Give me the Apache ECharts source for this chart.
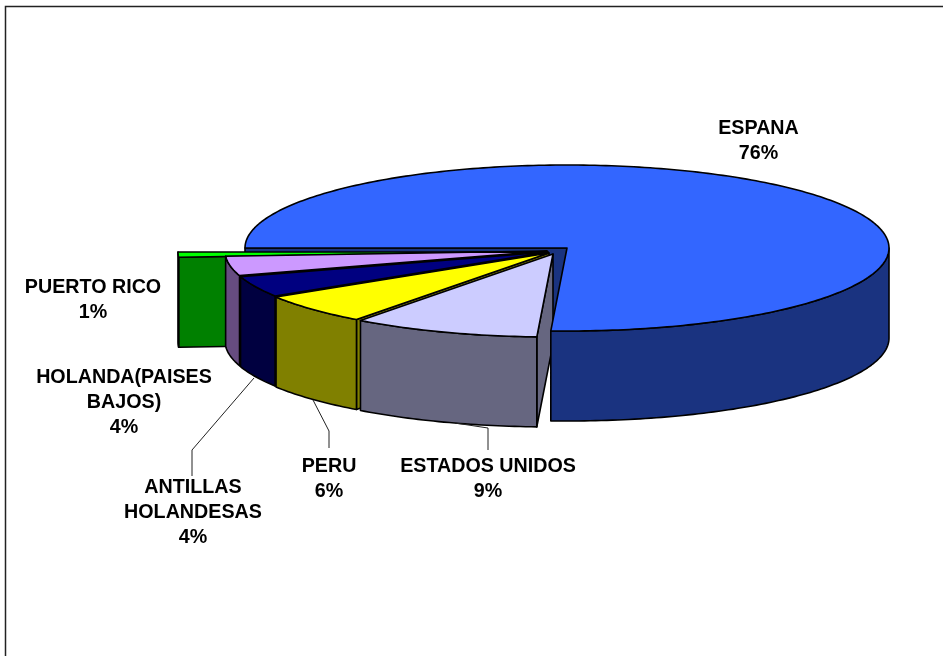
<!DOCTYPE html>
<html><head><meta charset="utf-8">
<style>html,body{margin:0;padding:0;background:#fff}#c{width:943px;height:656px}</style>
<script src="https://cdn.jsdelivr.net/npm/echarts@6/dist/echarts.min.js"></script>
</head><body><div id="c"></div>
<script>
// Data
const categories = ['ESPANA','ESTADOS UNIDOS','PERU','ANTILLAS\nHOLANDESAS','HOLANDA(PAISES\nBAJOS)','PUERTO RICO'];
const shares = [75.8, 9.4, 5.9, 4.1, 3.8, 1.0];

// Style and layout
const topColors  = ['#3366FF','#CCCCFF','#FFFF00','#000080','#CC99FF','#00FF00'];
const wallColors = ['#1A3380','#666680','#808000','#000040','#664C80','#008000'];
const explodeX = [0,-14,-18,-19,-20,-67];
const explodeY = [0,6,5,4,3,4];
const drawOrder = [0,60,50,40,30,20];
const labelX = [758.5,488,329,193,124,93];
const labelY = [141,479,479,512.5,402.5,300];
const leaders = [null,[[455,423],[488,428],[488,450]],[[313,400],[329,431],[329,448]],[[254,378],[192,450],[192,476]],null,null];
const PIE = {cx:567, cy:248, rx:322, ry:83, depth:90};
const STROKE = 1.6;
const FONT = {size:19.7, family:'"Liberation Sans", Arial, sans-serif', lead:25};

const total = shares.reduce((a,b)=>a+b,0);
const rad = d => d*Math.PI/180;
function arc(cx,cy,a,b,dy){
  const pts=[]; const n=Math.max(2,Math.ceil(Math.abs(b-a)));
  for(let i=0;i<=n;i++){const t=rad(a+(b-a)*i/n);pts.push([cx+PIE.rx*Math.cos(t),cy+PIE.ry*Math.sin(t)+dy]);}
  return pts;
}
function poly(points,fill,z2){
  return {type:'polygon',z2,silent:true,shape:{points},style:{fill,stroke:'#000',lineWidth:STROKE,lineJoin:'round'}};
}
function renderItem(params,api){
  const i=params.dataIndex;
  let before=0; for(let k=0;k<i;k++) before+=shares[k];
  const start=180+before/total*360, end=start+api.value(0)/total*360;
  const cx=PIE.cx+explodeX[i], cy=PIE.cy+explodeY[i], d=PIE.depth;
  const order = drawOrder[i];
  const children=[];
  // cut wall along the starting radius
  const s=arc(cx,cy,start,start,0)[0];
  children.push(poly([[cx,cy],s,[s[0],s[1]+d],[cx,cy+d]],wallColors[i],i===0?1:order));
  // outer wall, front half of the ellipse only
  const a=i===0?360:start;
  const topArc=arc(cx,cy,a,end,0), botArc=arc(cx,cy,a,end,d).reverse();
  children.push(poly(topArc.concat(botArc),wallColors[i],i===0?100:order+1));
  // top face
  children.push(poly([[cx,cy]].concat(arc(cx,cy,start,end,0)),topColors[i],i===0?101:order+2));
  // leader line
  if(leaders[i]) children.push({type:'polyline',z2:200,silent:true,shape:{points:leaders[i]},style:{fill:null,stroke:'#222',lineWidth:1}});
  // label
  children.push({type:'text',z2:210,silent:true,style:{
    text:categories[i]+'\n'+Math.round(api.value(0))+'%',
    x:labelX[i],y:labelY[i],align:'center',verticalAlign:'middle',
    font:'bold '+FONT.size+'px '+FONT.family,lineHeight:FONT.lead,fill:'#000'}});
  return {type:'group',children};
}
const chart=echarts.init(document.getElementById('c'),null,{renderer:'canvas'});
chart.setOption({
  animation:false,
  backgroundColor:'#fff',
  graphic:[{type:'rect',z:-1,silent:true,shape:{x:5.5,y:6.5,width:1000,height:700},style:{fill:'#fff',stroke:'#222',lineWidth:1.5}}],
  series:[{type:'custom',coordinateSystem:'none',animation:false,silent:true,clip:false,
    data:categories.map((n,i)=>({name:n,value:[shares[i]]})),
    renderItem}]
});
</script></body></html>
